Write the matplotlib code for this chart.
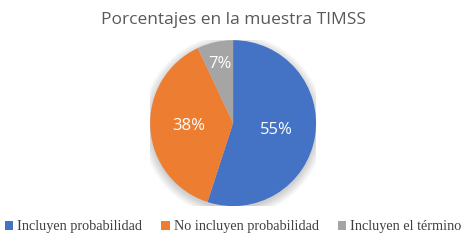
import numpy as np
import matplotlib.pyplot as plt
from matplotlib.patches import Circle

labels = ["Incluyen probabilidad", "No incluyen probabilidad", "Incluyen el término"]
values = [55, 38, 7]
colors = ["#4472C4", "#ED7D31", "#A5A5A5"]
title = "Porcentajes en la muestra TIMSS"

fig = plt.figure(figsize=(4.69, 2.48), dpi=100)
ax = fig.add_axes([0.320, 0.169, 0.354, 0.669])

# soft shadow around the pie
for r in np.linspace(1.10, 1.0, 8):
    ax.add_patch(Circle((0, -0.03), r, color="black", alpha=0.025, lw=0, zorder=0))

wedges, texts, autotexts = ax.pie(
    values, colors=colors, startangle=90, counterclock=False,
    autopct=lambda p: f"{p:.0f}%", pctdistance=0.53,
    wedgeprops=dict(linewidth=0), textprops=dict(color="white", fontsize=12, family="Open Sans"),
)
# small slice label sits further out
x, y = autotexts[2].get_position()
autotexts[2].set_position((x / 0.53 * 0.73, y / 0.53 * 0.73))
ax.set_xlim(-1, 1)
ax.set_ylim(-1, 1)
ax.set_aspect("equal")

fig.text(0.497, 0.92, title, ha="center", va="center", fontsize=12.5,
         color="#595959", family="Open Sans")

fig.legend(wedges, labels, loc="center", bbox_to_anchor=(0.497, 0.085), ncol=3,
           frameon=False, handlelength=0.6, handleheight=0.6, handletextpad=0.3,
           columnspacing=1.3, prop=dict(family="Liberation Serif", size=10.3),
           labelcolor="#404040")

fig.savefig("out.png", dpi=100)
